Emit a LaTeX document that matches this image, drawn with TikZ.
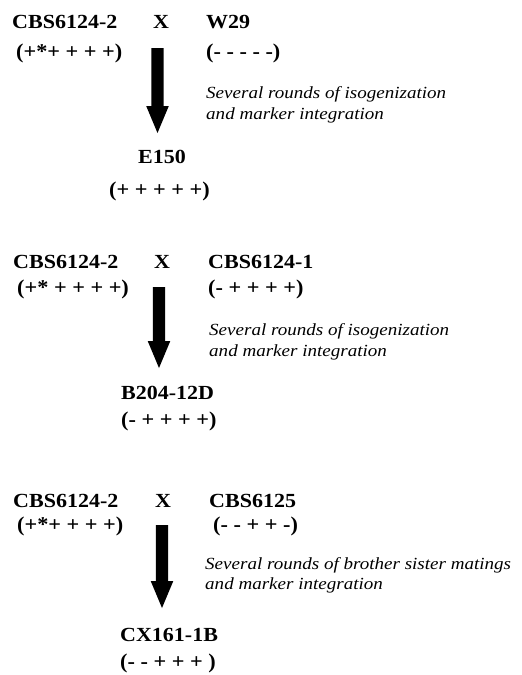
\documentclass[tikz,border=0pt]{standalone}
\usepackage{fontspec}
\setmainfont{Liberation Serif}
\usetikzlibrary{calc}
\newcommand\fatarrow[2]{%
  \fill (#1) ++(-6.2,0) -- ++(12.4,0) -- ($(#2)+(6.2,-27)$) -- ($(#2)+(11.3,-27)$) -- (#2)
    -- ($(#2)+(-11.3,-27)$) -- ($(#2)+(-6.2,-27)$) -- cycle;}
\begin{document}
\begin{tikzpicture}[x=1pt,y=-1pt,
  strain/.style={font=\bfseries\fontsize{20}{24}\selectfont, anchor=base west, inner sep=0pt, xscale=1.1},
  signs/.style={font=\bfseries\fontsize{21}{25}\selectfont, anchor=base west, inner sep=0pt, xscale=1.06},
  note/.style={font=\itshape\fontsize{17}{21}\selectfont, anchor=base west, inner sep=0pt, xscale=1.12}]
\useasboundingbox (0,0) rectangle (522,675);
% Block 1
\node[strain] (p1a) at (12,28) {CBS6124-2};
\node[strain] (x1) at (153,28) {X};
\node[strain] (p1b) at (206,28) {W29};
\node[signs] (s1a) at (16,58) {(+*+ + + +)};
\node[signs] (s1b) at (206,58) {(- - - - -)};
\coordinate (a1top) at (157.5,48);
\coordinate (a1tip) at (157.5,133);
\fatarrow{a1top}{a1tip}
\node[note] (n1a) at (206,98) {Several rounds of isogenization};
\node[note] (n1b) at (206,119) {and marker integration};
\node[strain] (c1) at (138,163) {E150};
\node[signs] (cs1) at (109,196) {(+ + + + +)};
% Block 2
\node[strain] (p2a) at (13,268) {CBS6124-2};
\node[strain] (x2) at (154,268) {X};
\node[strain] (p2b) at (208,268) {CBS6124-1};
\node[signs] (s2a) at (17,294) {(+* + + + +)};
\node[signs] (s2b) at (208,294) {(- + + + +)};
\coordinate (a2top) at (159,287);
\coordinate (a2tip) at (159,368);
\fatarrow{a2top}{a2tip}
\node[note] (n2a) at (209,335) {Several rounds of isogenization};
\node[note] (n2b) at (209,356) {and marker integration};
\node[strain] (c2) at (121,399) {B204-12D};
\node[signs] (cs2) at (121,426) {(- + + + +)};
% Block 3
\node[strain] (p3a) at (13,507) {CBS6124-2};
\node[strain] (x3) at (155,507) {X};
\node[strain] (p3b) at (209,507) {CBS6125};
\node[signs] (s3a) at (17,531) {(+*+ + + +)};
\node[signs] (s3b) at (213,531) {(- - + + -)};
\coordinate (a3top) at (162,525);
\coordinate (a3tip) at (162,608);
\fatarrow{a3top}{a3tip}
\node[note] (n3a) at (205,569) {Several rounds of brother sister matings};
\node[note] (n3b) at (205,589) {and marker integration};
\node[strain] (c3) at (120,641) {CX161-1B};
\node[signs] (cs3) at (120,668) {(- - + + + )};
\end{tikzpicture}
\end{document}
